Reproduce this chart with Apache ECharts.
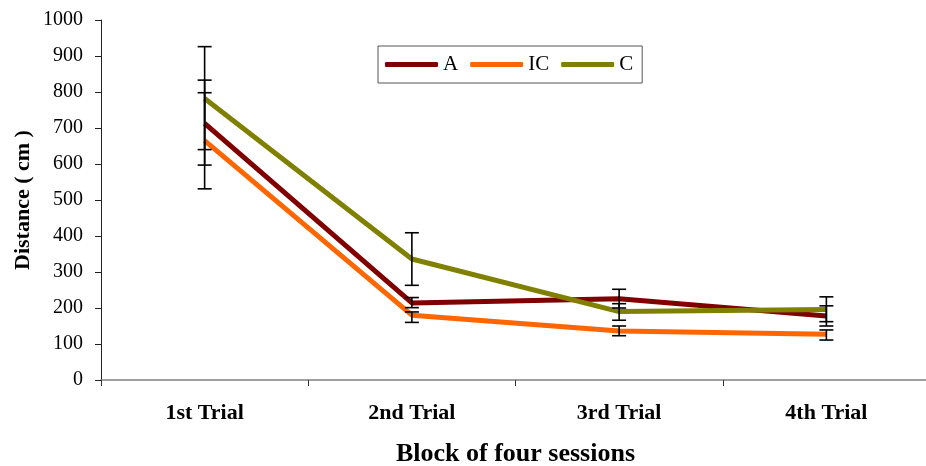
<!DOCTYPE html>
<html>
<head>
<meta charset="utf-8">
<script src="https://cdn.jsdelivr.net/npm/echarts@6/dist/echarts.min.js"></script>
<style>
html,body{margin:0;padding:0;background:#fff;}
#chart{width:926px;height:466px;}
</style>
</head>
<body>
<div id="chart"></div>
<script>
const categories = ['1st Trial', '2nd Trial', '3rd Trial', '4th Trial'];
const seriesNames = ['A', 'IC', 'C'];
const valuesA = [713, 214, 226, 178];
const valuesIC = [665, 180, 136, 127];
const valuesC = [782, 336, 190, 196];
const lowA = [597, 201, 200, 150];
const highA = [833, 229, 252, 206];
const lowIC = [531, 160, 123, 111];
const highIC = [798, 189, 150, 139];
const lowC = [640, 263, 166, 162];
const highC = [926, 409, 212, 231];
const yTicks = [0, 100, 200, 300, 400, 500, 600, 700, 800, 900, 1000];

const colors = ['#800000', '#FF6600', '#808000'];
const FONT = "'Liberation Serif', 'Times New Roman', serif";

const errData = [];
[[lowA, highA], [lowIC, highIC], [lowC, highC]].forEach(function (pair) {
  for (let i = 0; i < categories.length; i++) {
    errData.push([i, pair[0][i], pair[1][i]]);
  }
});

const chart = echarts.init(document.getElementById('chart'));
chart.setOption({
  animation: false,
  backgroundColor: '#ffffff',
  color: colors,
  grid: { left: 101, top: 20, width: 829, height: 360, containLabel: false, outerBoundsMode: 'none' },
  legend: {
    data: seriesNames.map(function (n) { return { name: n, icon: 'roundRect' }; }),
    left: 378,
    top: 46,
    orient: 'horizontal',
    itemWidth: 53,
    itemHeight: 5,
    itemGap: 12,
    padding: [8, 9, 8, 7],
    borderColor: '#555555',
    borderWidth: 1,
    textStyle: { fontFamily: FONT, fontSize: 21, color: '#000' }
  },
  xAxis: {
    type: 'category',
    data: categories,
    boundaryGap: true,
    name: 'Block of four sessions',
    nameLocation: 'middle',
    nameGap: 61,
    nameMoveOverlap: false,
    nameTextStyle: { fontFamily: FONT, fontSize: 26, fontWeight: 'bold', color: '#000' },
    axisLine: { lineStyle: { color: '#808080', width: 1.5 } },
    axisTick: { show: true, inside: false, length: 6, alignWithLabel: false, lineStyle: { color: '#333' } },
    axisLabel: { fontFamily: FONT, fontSize: 22, fontWeight: 'bold', color: '#000', margin: 22 },
    splitLine: { show: false }
  },
  yAxis: {
    type: 'value',
    min: yTicks[0],
    max: yTicks[yTicks.length - 1],
    interval: yTicks[1] - yTicks[0],
    name: 'Distance ( cm )',
    nameLocation: 'middle',
    nameGap: 67,
    nameMoveOverlap: false,
    nameTextStyle: { fontFamily: FONT, fontSize: 22, fontWeight: 'bold', color: '#000' },
    axisLine: { show: true, lineStyle: { color: '#222', width: 1 } },
    axisTick: { show: true, inside: false, length: 6, lineStyle: { color: '#222' } },
    axisLabel: { fontFamily: FONT, fontSize: 20, color: '#000', margin: 18, formatter: function (v) { return String(v); } },
    splitLine: { show: false }
  },
  series: [
    { name: 'A', type: 'line', data: valuesA, symbol: 'none', lineStyle: { width: 5, color: colors[0] }, z: 2 },
    { name: 'IC', type: 'line', data: valuesIC, symbol: 'none', lineStyle: { width: 5, color: colors[1] }, z: 2 },
    { name: 'C', type: 'line', data: valuesC, symbol: 'none', lineStyle: { width: 5, color: colors[2] }, z: 2 },
    {
      name: 'err',
      type: 'custom',
      data: errData,
      z: 5,
      encode: { x: 0, y: [1, 2] },
      renderItem: function (params, api) {
        const x = api.value(0);
        const lo = api.coord([x, api.value(1)]);
        const hi = api.coord([x, api.value(2)]);
        const hw = 7;
        const st = { stroke: '#000', lineWidth: 1.6 };
        return {
          type: 'group',
          children: [
            { type: 'line', shape: { x1: lo[0], y1: lo[1], x2: hi[0], y2: hi[1] }, style: st },
            { type: 'line', shape: { x1: lo[0] - hw, y1: lo[1], x2: lo[0] + hw, y2: lo[1] }, style: st },
            { type: 'line', shape: { x1: hi[0] - hw, y1: hi[1], x2: hi[0] + hw, y2: hi[1] }, style: st }
          ]
        };
      }
    }
  ]
});
</script>
</body>
</html>
